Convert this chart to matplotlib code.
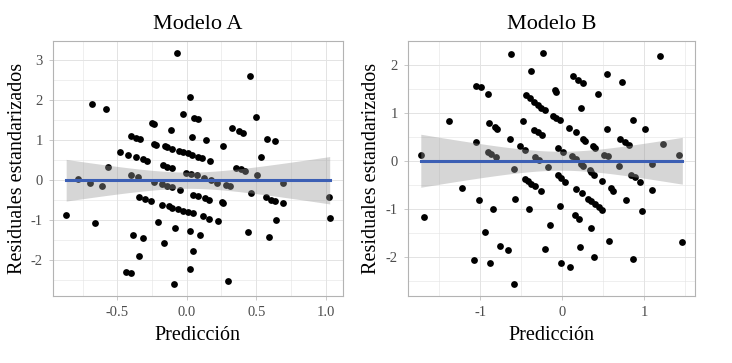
import numpy as np
import matplotlib
matplotlib.use("Agg")
import matplotlib.pyplot as plt
from matplotlib.ticker import FixedLocator

plt.rcParams['font.family'] = ['Liberation Serif', 'DejaVu Serif']
plt.rcParams['axes.unicode_minus'] = False

# Modelo A: predicted values and standardized residuals
pred_a = [-0.071, -0.684, -0.583, 0.025, -0.030, 0.054, 0.078, -0.251, -0.235, -0.110,
          0.035, -0.403, -0.367, -0.338, -0.235, -0.218, -0.157, -0.139, -0.107, -0.054,
          -0.025, 0.006, 0.038, 0.078, -0.480, -0.420, -0.362, -0.314, -0.283, -0.565,
          -0.170, -0.139, -0.103, 0.458, 0.502, 0.326, 0.379, 0.408, 0.136, 0.579,
          0.637, 0.264, 0.110, 0.168, 0.531, 0.355, 0.391, 0.422, -0.006, 0.030,
          0.071, -0.781, -0.697, -0.608, -0.403, -0.348, -0.235, -0.175, -0.139, -0.107,
          -0.049, 0.042, 0.078, -0.343, -0.300, -0.254, -0.175, -0.131, -0.103, -0.066,
          -0.030, 0.006, 0.042, -0.868, -0.663, -0.206, -0.083, 0.023, 0.097, -0.384,
          -0.314, -0.162, 0.042, -0.343, -0.439, -0.403, 0.023, -0.090, 0.504, 0.126,
          0.175, 0.215, 0.283, 0.312, 0.692, 0.134, 0.157, 0.464, 0.254, 0.264,
          0.572, 0.608, 0.632, 0.692, 1.022, 0.114, 0.162, 0.222, 0.644, 1.029,
          0.439, 0.591, 0.295]
resid_a = [3.19, 1.91, 1.78, 2.07, 1.65, 1.56, 1.53, 1.44, 1.41, 1.26,
           1.09, 1.10, 1.06, 1.02, 0.91, 0.88, 0.86, 0.82, 0.78, 0.72,
           0.70, 0.68, 0.63, 0.59, 0.70, 0.63, 0.58, 0.53, 0.49, 0.32,
           0.37, 0.34, 0.30, 2.60, 1.59, 1.30, 1.23, 1.18, 1.01, 1.03,
           0.98, 0.86, 0.55, 0.49, 0.58, 0.30, 0.28, 0.24, 0.18, 0.16,
           0.12, 0.04, -0.07, -0.14, 0.14, 0.09, -0.05, -0.09, -0.14, -0.18,
           -0.25, -0.36, -0.39, -0.42, -0.47, -0.53, -0.63, -0.65, -0.69, -0.73,
           -0.78, -0.80, -0.83, -0.86, -1.06, -1.05, -1.19, -1.27, -1.37, -1.37,
           -1.44, -1.56, -1.78, -1.89, -2.30, -2.31, -2.23, -2.60, 0.14, 0.05,
           0.00, -0.07, -0.11, -0.15, -0.07, -0.44, -0.49, -0.32, -0.55, -0.58,
           -0.43, -0.49, -0.51, -0.57, -0.43, -0.90, -0.97, -1.02, -1.00, -0.94,
           -1.29, -1.41, -2.53]

# Modelo B
pred_b = [-1.723, -1.375, -1.051, -1.051, -0.994, -0.909, -0.889, -0.820, -0.792, -0.617,
          -0.233, -0.383, -0.091, -0.071, -0.444, -0.395, -0.346, -0.294, -0.253, -0.213,
          -0.476, -0.343, -0.294, -0.240, -0.629, -0.113, -0.071, -0.030, -0.508, -0.456,
          -0.902, -0.861, -0.800, -0.334, -0.282, -0.051, -0.589, -0.173, 1.193, 0.131,
          0.192, 0.261, 0.549, 0.731, 0.435, 0.225, 0.083, 0.164, 0.261, 0.285,
          0.549, 0.869, 1.015, 0.711, 0.772, 0.820, 0.374, 0.403, 0.010, 1.237,
          0.508, 0.557, 1.428, 0.119, 0.172, 0.233, 0.261, 0.690, 1.100, 0.343,
          -0.051, -0.456, -0.416, -0.375, -0.334, -0.261, -1.218, -1.011, -0.577, -0.848,
          -0.404, -0.030, -1.679, -0.152, -0.942, -0.759, -0.658, -0.213, -1.070, -0.881,
          -0.018, -0.583, -0.010, 0.039, 0.354, 0.386, 0.488, 0.839, 0.893, 0.950,
          0.164, 0.245, 0.602, 0.626, 0.313, 0.354, 0.407, 0.456, 0.484, 0.781,
          1.092, 0.974, 0.152, 0.205, 0.355, 0.577, 1.467, 0.224, 0.385, 0.860,
          0.103]
resid_b = [0.11, 0.83, 0.40, 1.55, 1.54, 1.38, 0.78, 0.70, 0.66, 2.22,
           2.25, 1.86, 1.47, 1.43, 1.37, 1.30, 1.23, 1.16, 1.09, 1.06,
           0.83, 0.64, 0.59, 0.54, 0.45, 0.93, 0.88, 0.85, 0.30, 0.23,
           0.19, 0.14, 0.08, 0.08, 0.01, 0.26, -0.18, -0.14, 2.17, 1.76,
           1.69, 1.61, 1.80, 1.63, 1.39, 1.09, 0.68, 0.59, 0.46, 0.42,
           0.66, 0.85, 0.66, 0.46, 0.39, 0.32, 0.30, 0.26, 0.19, 0.35,
           0.12, 0.09, 0.12, 0.09, 0.03, -0.07, -0.11, -0.10, -0.06, -0.19,
           -0.29, -0.38, -0.43, -0.48, -0.52, -0.62, -0.56, -0.81, -0.80, -1.01,
           -1.00, -0.95, -1.17, -1.33, -1.48, -1.77, -1.86, -1.84, -2.06, -2.13,
           -2.13, -2.57, -0.36, -0.44, -0.24, -0.29, -0.43, -0.29, -0.34, -0.44,
           -0.58, -0.67, -0.56, -0.62, -0.79, -0.83, -0.90, -0.96, -1.03, -0.81,
           -0.61, -1.05, -1.12, -1.22, -1.39, -1.68, -1.70, -1.80, -2.01, -2.05,
           -2.22]

panels = [
    ("Modelo A", pred_a, resid_a, [-0.5, 0.0, 0.5, 1.0], [-2, -1, 0, 1, 2, 3], "{:.1f}"),
    ("Modelo B", pred_b, resid_b, [-1, 0, 1], [-2, -1, 0, 1, 2], "{:.0f}"),
]

T_CRIT = 1.98
GRID = "#E3E3E3"
BORDER = "#B3B3B3"
TEXT = "#4D4D4D"

fig = plt.figure(figsize=(7.32, 3.63), dpi=100)
axes = [fig.add_axes([0.0724, 0.185, 0.396, 0.702]),
        fig.add_axes([0.557, 0.185, 0.393, 0.702])]

for ax, (title, xs, ys, xt, yt, fmt) in zip(axes, panels):
    x = np.array(xs)
    y = np.array(ys)

    # residuals vs fitted values: the OLS line is flat at zero by construction,
    # band is the usual lm confidence interval around it
    n = len(x)
    sigma = np.sqrt(np.sum(y ** 2) / (n - 2))
    xx = np.linspace(x.min(), x.max(), 80)
    fit = np.zeros_like(xx)
    se = sigma * np.sqrt(1 / n + (xx - x.mean()) ** 2 / np.sum((x - x.mean()) ** 2))

    ax.scatter(x, y, s=24, c="black", linewidths=0, zorder=2)
    ax.fill_between(xx, fit - T_CRIT * se, fit + T_CRIT * se, color="#999999",
                    alpha=0.4, linewidth=0, zorder=3)
    ax.plot(xx, fit, color="#3C5FB4", linewidth=2.2, zorder=4)

    xpad = 0.05 * (x.max() - x.min())
    ypad = 0.05 * (y.max() - y.min())
    ax.set_xlim(x.min() - xpad, x.max() + xpad)
    ax.set_ylim(y.min() - ypad, y.max() + ypad)

    ax.set_xticks(xt)
    ax.set_xticklabels([fmt.format(v) for v in xt])
    ax.set_yticks(yt)
    ax.set_yticklabels(["{:.0f}".format(v) for v in yt])
    step_x = xt[1] - xt[0]
    ax.xaxis.set_minor_locator(FixedLocator(np.arange(xt[0] - 1.5 * step_x, xt[-1] + step_x, step_x)))
    ax.yaxis.set_minor_locator(FixedLocator(np.arange(yt[0] - 1.5, yt[-1] + 1, 1.0)))

    ax.grid(which="major", color=GRID, linewidth=0.7)
    ax.grid(which="minor", color=GRID, linewidth=0.4)
    ax.set_axisbelow(True)
    ax.tick_params(which="major", length=2.7, width=0.5, color=BORDER,
                   labelsize=10.5, labelcolor=TEXT, pad=4.5)
    ax.tick_params(which="minor", length=0)
    for sp in ax.spines.values():
        sp.set_color(BORDER)
        sp.set_linewidth(0.8)

    ax.set_title(title, fontsize=16, pad=9)
    ax.set_xlabel("Predicción", fontsize=14.5, labelpad=5.5)
    ax.set_ylabel("Residuales estandarizados", fontsize=14.5, labelpad=3)

fig.savefig("out.png", dpi=100)
